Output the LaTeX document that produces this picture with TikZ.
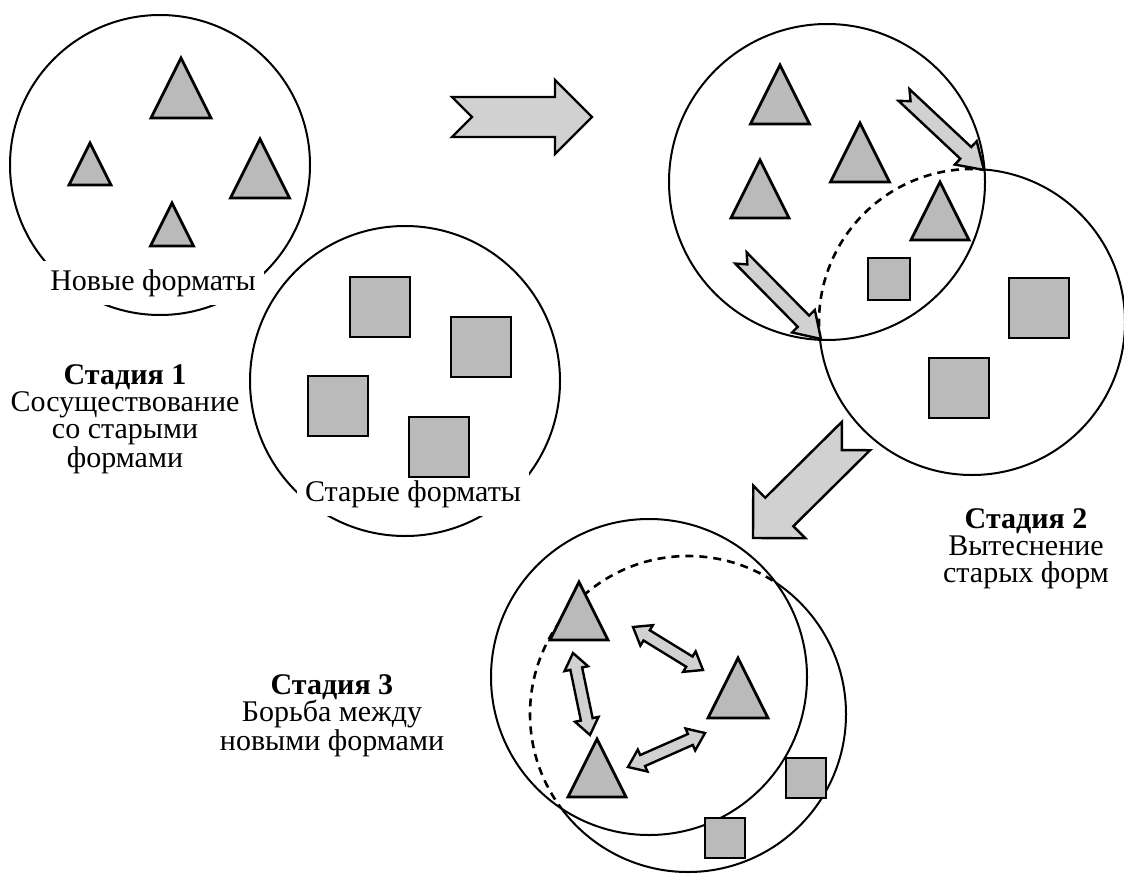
\documentclass[tikz,border=0pt]{standalone}
\usepackage{fontspec}
\setmainfont{Liberation Serif}
\newcommand\mytri[3]{\draw[shp] (#1,#2) -- ++(#3/2,#3) -- ++(-#3,0) -- cycle;}
\newcommand\mysq[3]{\draw[shp] (#1,#2) rectangle ++(#3,#3);}
\newcommand\notarr[8]{%
  \pgfmathsetmacro\aang{atan2(-(#4-#2),#3-#1)}%
  \pgfmathsetmacro\alen{veclen(#3-#1,#4-#2)}%
  \begin{scope}[shift={(#1,#2)},rotate=\aang]
    \draw[arr] (0,-#5) -- (\alen-#7,-#5) -- (\alen-#7,-#6) -- (\alen,0) -- (\alen-#7,#6) -- (\alen-#7,#5) -- (0,#5) -- (#8,0) -- cycle;
  \end{scope}}
\newcommand\dblarr[7]{%
  \pgfmathsetmacro\aang{atan2(-(#4-#2),#3-#1)}%
  \pgfmathsetmacro\alen{veclen(#3-#1,#4-#2)}%
  \begin{scope}[shift={(#1,#2)},rotate=\aang]
    \draw[arr] (0,0) -- (#7,-#6) -- (#7,-#5) -- (\alen-#7,-#5) -- (\alen-#7,-#6) -- (\alen,0) -- (\alen-#7,#6) -- (\alen-#7,#5) -- (#7,#5) -- (#7,#6) -- cycle;
  \end{scope}}
\begin{document}
\begin{tikzpicture}[x=0.5pt,y=-0.5pt,
  shp/.style={draw=black, line width=1.4pt, fill=black!27, line join=miter},
  circ/.style={draw=black, line width=1pt},
  dsh/.style={draw=black, line width=1.3pt, dash pattern=on 4pt off 3pt},
  arr/.style={draw=black, line width=1.2pt, fill=black!18, line join=miter},
  lbl/.style={font=\fontsize{15}{13.5}\selectfont, align=center, inner sep=1pt},
  cut/.style={lbl, fill=white, inner sep=4pt}]
\useasboundingbox (0,0) rectangle (1124,878);

% ---------- Stage 1 ----------
\draw[circ] (160,165) circle[radius=150];
\draw[circ] (405,381) circle[radius=155];
\node[cut] (new) at (153,283) {Новые форматы};
\node[cut] (old) at (413,494) {Старые форматы};
\mytri{181}{58}{60}
\mytri{90}{143}{42}
\mytri{260}{139}{59}
\mytri{172}{203}{43}
\mysq{350}{277}{60}
\mysq{451}{317}{60}
\mysq{308}{376}{60}
\mysq{409}{417}{60}
\node[lbl] (s1) at (125,419) {\textbf{Стадия 1}\\Сосуществование\\со старыми\\формами};

% big arrow 1
\notarr{452}{117}{592}{117}{20}{37}{37}{20}

% ---------- Stage 2 ----------
\draw[circ] (972,322) circle[radius=153];
\begin{scope}
  \clip (827,182) circle[radius=158];
  \draw[white, line width=3pt] (972,322) circle[radius=153];
  \draw[dsh] (972,322) circle[radius=153];
\end{scope}
\draw[circ] (827,182) circle[radius=158];
\mytri{780}{65}{59}
\mytri{760}{160}{58}
\mytri{860}{123}{59}
\mytri{940}{182}{58}
\mysq{868}{258}{42}
\mysq{1009}{278}{60}
\mysq{929}{358}{60}
\notarr{904}{95}{984}{170}{8}{16}{25}{9}
\notarr{741}{258}{821}{339}{8}{16}{25}{9}
\node[lbl] (s2) at (1026,549) {\textbf{Стадия 2}\\Вытеснение\\старых форм};

% big arrow 2
\notarr{856}{436}{753}{538}{20}{37}{37}{20}

% ---------- Stage 3 ----------
\draw[circ] (688,714) circle[radius=158];
\begin{scope}
  \clip (649,677) circle[radius=158];
  \draw[white, line width=3pt] (688,714) circle[radius=158];
  \draw[dsh] (688,714) circle[radius=158];
\end{scope}
\draw[circ] (649,677) circle[radius=158];
\mytri{579}{582}{58}
\mytri{738}{658}{60}
\mytri{597}{739}{58}
\mysq{786}{758}{40}
\mysq{705}{818}{40}
\dblarr{633}{627}{703}{670}{6}{12}{16}
\dblarr{573}{653}{590}{735}{6}{12}{16}
\dblarr{628}{767}{705}{733}{6}{12}{16}
\node[lbl] (s3) at (332,716) {\textbf{Стадия 3}\\Борьба между\\новыми формами};
\end{tikzpicture}
\end{document}
